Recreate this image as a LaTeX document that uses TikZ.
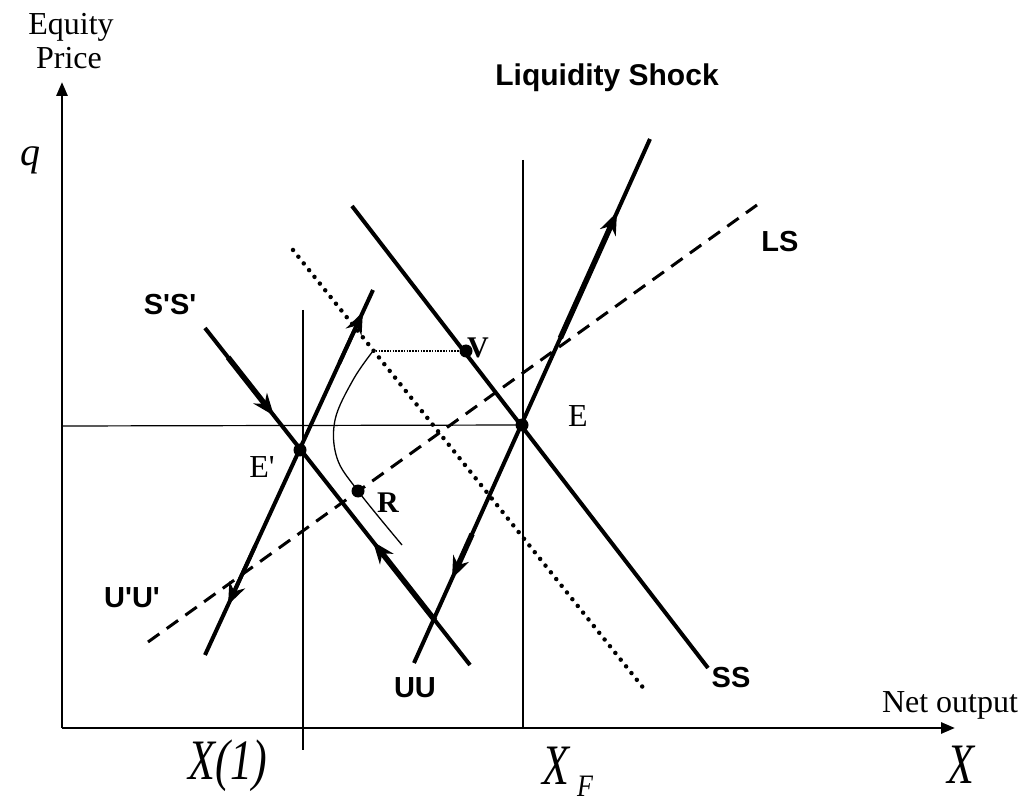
\documentclass[tikz,border=0pt]{standalone}
\usepackage{fontspec}
\setmainfont{Liberation Serif}
\setsansfont{Liberation Sans}
\usetikzlibrary{arrows.meta,calc}
\begin{document}
\begin{tikzpicture}[x=1pt,y=-1pt,
 axisln/.style={line width=2.8pt,-{Triangle[length=14pt,width=11pt]}},
 guide/.style={line width=1.2pt},
 mainln/.style={line width=4pt},
 arrseg/.style={line width=5.5pt,-{Stealth[length=22pt,width=17pt,inset=7pt]}},
 arrthin/.style={line width=4pt,-{Stealth[length=22pt,width=17pt,inset=7pt]}},
 dotln/.style={line width=4.5pt,line cap=round,dash pattern=on 0pt off 8.6pt},
 dashln/.style={line width=3pt,dash pattern=on 14pt off 9pt},
 vdot/.style={line width=1.6pt,dash pattern=on 1.6pt off 1.2pt},
 thinc/.style={line width=1.3pt},
 pt/.style={circle,fill,inner sep=0pt,minimum size=13pt},
 lab/.style={font=\sffamily\bfseries\fontsize{29}{29}\selectfont,inner sep=0pt},
 slab/.style={font=\fontsize{32}{32}\selectfont,inner sep=0pt},
 blab/.style={font=\bfseries\fontsize{30}{30}\selectfont,inner sep=0pt},
 ilab/.style={font=\itshape\fontsize{44}{44}\selectfont,inner sep=0pt},
]
\useasboundingbox (0,0) rectangle (1029,802);
% axes
\coordinate (O) at (62,728);
\coordinate (Ytop) at (62,82);
\coordinate (Xend) at (955,728);
\draw[axisln] (O) -- (Ytop);
\draw[axisln] (O) -- (Xend);
% guide lines
\coordinate (g1a) at (303,310);
\coordinate (g1b) at (303,750);
\coordinate (g2a) at (523,160);
\coordinate (g2b) at (523,728);
\coordinate (h1a) at (62,426);
\node[pt] (E) at (522,425) {};
\draw[guide] (g1a) -- (g1b);
\draw[guide] (g2a) -- (g2b);
\draw[guide] (h1a) -- (E.center);
% LS dashed
\coordinate (ls1) at (148,642);
\coordinate (ls2) at (757,205);
\draw[dashln] (ls1) -- (ls2);
% dotted
\coordinate (d1) at (293,250);
\coordinate (d2) at (645,690);
\draw[dotln] (d1) -- (d2);
% main lines
\coordinate (ss1) at (352,206);
\coordinate (ss2) at (708,668);
\coordinate (uu1) at (414,663);
\coordinate (uu2) at (650,139);
\coordinate (u1) at (205,655);
\coordinate (u2) at (373,290);
\coordinate (s1) at (205,328);
\coordinate (s2) at (470,665);
\draw[mainln] (ss1) -- (ss2);
\draw[mainln] (uu1) -- (uu2);
\draw[mainln] (u1) -- (u2);
\draw[mainln] (s1) -- (s2);
% arrows
\coordinate (sa0) at ($(s1)!0.087!(s2)$);
\coordinate (sa1) at ($(s1)!0.26!(s2)$);
\coordinate (sb0) at ($(s1)!0.868!(s2)$);
\coordinate (sb1) at ($(s1)!0.634!(s2)$);
\draw[arrseg] (sa0) -- (sa1);
\draw[arrseg] (sb0) -- (sb1);
\coordinate (ua0) at ($(u1)!0.8!(u2)$);
\coordinate (ua1) at ($(u1)!0.94!(u2)$);
\coordinate (ub0) at ($(u1)!0.3!(u2)$);
\coordinate (ub1) at ($(u1)!0.137!(u2)$);
\draw[arrthin] (ua0) -- (ua1);
\draw[arrthin] (ub0) -- (ub1);
\coordinate (uua0) at ($(uu1)!0.62!(uu2)$);
\coordinate (uua1) at ($(uu1)!0.86!(uu2)$);
\coordinate (uub0) at ($(uu1)!0.246!(uu2)$);
\coordinate (uub1) at ($(uu1)!0.161!(uu2)$);
\draw[arrseg] (uua0) -- (uua1);
\draw[arrseg] (uub0) -- (uub1);
% V, R and path
\node[pt] (V) at (466,351) {};
\coordinate (Vp) at (373,351);
\node[pt] (R) at (358,491) {};
\node[pt] (Ep) at (300,450) {};
\coordinate (c1) at (353,380);
\coordinate (c2) at (335,420);
\coordinate (c3) at (337,458);
\coordinate (c4) at (402,545);
\draw[vdot] (Vp) -- (V.center);
\draw[thinc] plot[smooth,tension=0.6] coordinates {(Vp) (c1) (c2) (c3) (R.center) (c4)};
% labels
\node[slab] (eq) at (71,27) {Equity};
\node[slab] (pr) at (69,58) {Price};
\node[font=\itshape\fontsize{40}{40}\selectfont,inner sep=0pt] (q) at (30,160) {q};
\node[lab,font=\sffamily\bfseries\fontsize{30}{30}\selectfont] (ttl) at (607,78) {Liquidity Shock};
\node[lab] (lsl) at (780,242) {LS};
\node[lab] (ssp) at (170,305) {S\textquotesingle S\textquotesingle};
\node[lab] (uup) at (132,598) {U\textquotesingle U\textquotesingle};
\node[lab] (uul) at (415,688) {UU};
\node[lab] (ssl) at (731,678) {SS};
\node[slab] (El) at (578,416) {E};
\node[slab] (Epl) at (262,467) {E\textquotesingle};
\node[blab] (Vl) at (478,348) {V};
\node[blab] (Rl) at (388,503) {R};
\node[slab] (net) at (950,705) {Net output};
\node[ilab] (x1) at (228,766) {\scalebox{1}[1.3]{X(1)}};
\node[ilab] (xf) at (556,766) {\scalebox{1}[1.3]{X}};
\node[font=\itshape\fontsize{26}{26}\selectfont,inner sep=0pt] (xfs) at (585,786) {\scalebox{1}[1.2]{F}};
\node[ilab] (xx) at (961,765) {\scalebox{1}[1.3]{X}};
\end{tikzpicture}
\end{document}
